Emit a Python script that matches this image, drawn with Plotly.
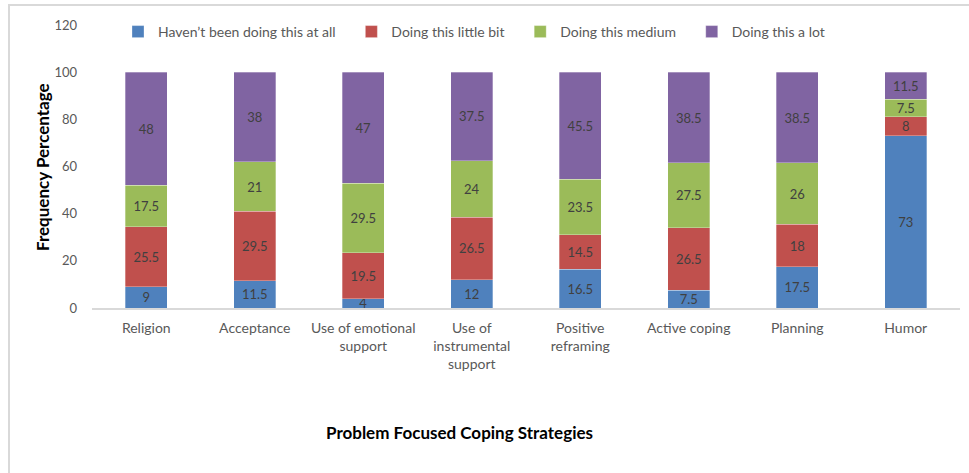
import plotly.graph_objects as go

categories = ["Religion", "Acceptance", "Use of emotional<br>support",
              "Use of<br>instrumental<br>support", "Positive<br>reframing",
              "Active coping", "Planning", "Humor"]
not_at_all = [9, 11.5, 4, 12, 16.5, 7.5, 17.5, 73]
little_bit = [25.5, 29.5, 19.5, 26.5, 14.5, 26.5, 18, 8]
medium = [17.5, 21, 29.5, 24, 23.5, 27.5, 26, 7.5]
a_lot = [48, 38, 47, 37.5, 45.5, 38.5, 38.5, 11.5]
series_names = ["Haven\u2019t been doing this at all", "Doing this little bit",
                "Doing this medium", "Doing this a lot"]
colors = ["#4f81bd", "#c0504d", "#9bbb59", "#8064a2"]
y_ticks = [0, 20, 40, 60, 80, 100, 120]

FONT = "Lato, 'Liberation Sans', sans-serif"
W, H = 969, 473
L, R, T, B = 92, 9, 25, 165
PAD = "\u00a0\u00a0\u00a0"

fig = go.Figure()
for name, vals, col in zip(series_names, [not_at_all, little_bit, medium, a_lot], colors):
    fig.add_trace(go.Bar(
        x=categories, y=vals, name=name + PAD,
        marker=dict(color=col, line=dict(color="rgba(255,255,255,0.5)", width=0.6)),
        text=[f"{v:g}" for v in vals],
        textposition="inside", insidetextanchor="middle",
        constraintext="none", textangle=0,
        textfont=dict(family=FONT, size=13, color="#404040"),
        hoverinfo="skip",
    ))

pw = W - L - R
ph = H - T - B
fig.update_layout(
    barmode="stack",
    bargap=0.61,
    width=W, height=H,
    margin=dict(l=L, r=R, t=T, b=B, autoexpand=False),
    paper_bgcolor="white", plot_bgcolor="white",
    font=dict(family=FONT, size=13, color="#595959"),
    showlegend=True,
    legend=dict(orientation="h", x=(118 - L) / pw, xanchor="left",
                y=1 + (T - 32) / ph, yanchor="middle",
                font=dict(family=FONT, size=14, color="#595959"),
                itemwidth=30, bgcolor="rgba(0,0,0,0)", traceorder="normal"),
    xaxis=dict(showline=True, linecolor="#d9d9d9", linewidth=1.5,
               ticks="", ticklabelstandoff=6,
               tickfont=dict(size=14, color="#595959"),
               showgrid=False, zeroline=False),
    yaxis=dict(range=[0, 120], tickvals=y_ticks, showgrid=False, zeroline=False,
               showline=False, ticks="", ticklabelstandoff=14,
               tickfont=dict(size=13, color="#595959")),
    annotations=[
        dict(text="<b>Frequency Percentage</b>", xref="paper", yref="paper",
             x=(42 - L) / pw, y=1 - (167 - T) / ph, textangle=-90,
             showarrow=False, font=dict(family=FONT, size=17, color="#000000"),
             xanchor="center", yanchor="middle"),
        dict(text="<b>Problem Focused Coping Strategies</b>", xref="paper", yref="paper",
             x=(459 - L) / pw, y=1 - (432 - T) / ph,
             showarrow=False, font=dict(family=FONT, size=17, color="#000000"),
             xanchor="center", yanchor="middle"),
    ],
    shapes=[
        dict(type="rect", xref="paper", yref="paper",
             x0=(9 - L) / pw, x1=(990 - L) / pw,
             y0=1 - (500 - T) / ph, y1=1 + (T - 5) / ph,
             line=dict(color="#d9d9d9", width=2), fillcolor="rgba(0,0,0,0)",
             layer="below"),
    ],
)

fig.write_html("out.html", config={"displayModeBar": False},
               post_script="document.body.style.margin='0';document.body.style.overflow='hidden';")
